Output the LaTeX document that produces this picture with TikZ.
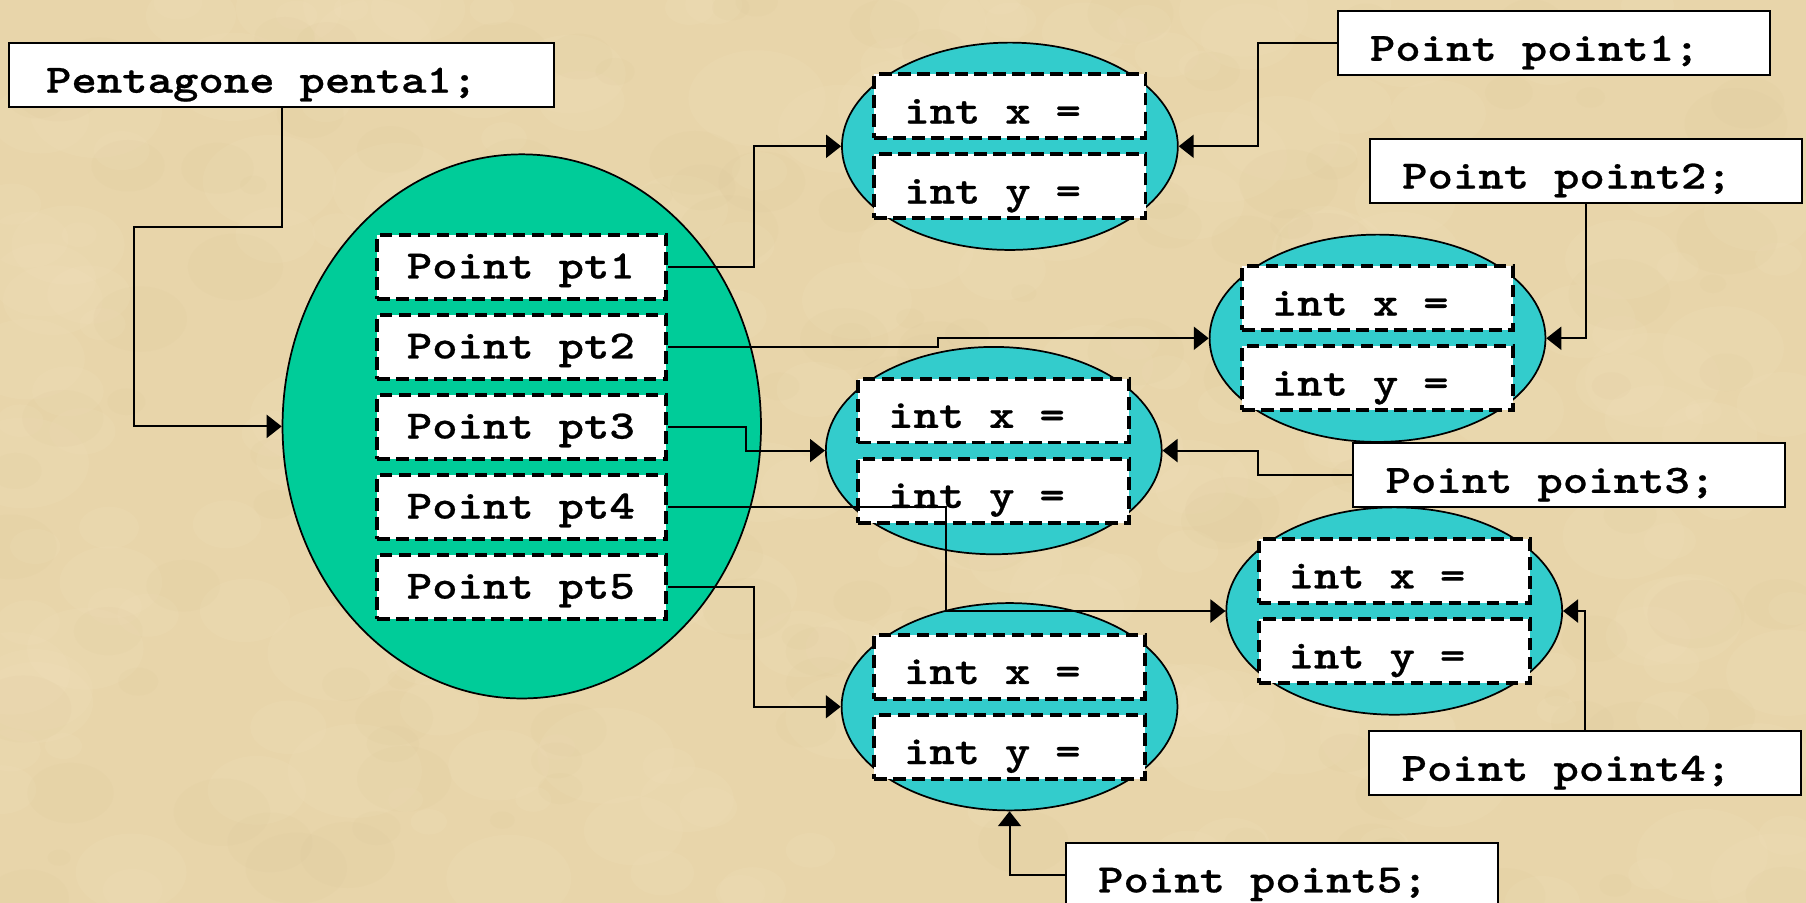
\documentclass[tikz,border=0pt]{standalone}
\usepackage{fontspec}
\newfontfamily\codefnt{lmmonolt10-bold.otf}[FakeStretch=1.2,FakeBold=0.6]
\newcommand{\mycodefont}{\fontsize{35}{40}\selectfont\codefnt\spaceskip=21.6pt\relax}
\usetikzlibrary{shapes.geometric,arrows.meta}
\definecolor{bgcol}{RGB}{232,213,170}
\definecolor{bglight}{RGB}{245,230,196}
\definecolor{bgdark}{RGB}{218,196,150}
\definecolor{greenfill}{RGB}{0,204,153}
\definecolor{cyanfill}{RGB}{51,204,204}
\begin{document}
\begin{tikzpicture}[x=1pt,y=-1pt,
  codefont/.style={font=\mycodefont},
  lblbox/.style={codefont,rectangle,draw=black,line width=1.8pt,fill=white,
    inner xsep=28pt,inner ysep=0pt,text width=319pt,minimum height=55.5pt,
    align=flush left,text height=31pt,text depth=0pt},
  fieldbox/.style={codefont,rectangle,draw=black,line width=3.4pt,fill=white,
    dash pattern=on 11pt off 5.5pt,inner ysep=0pt,minimum height=55.5pt,
    align=flush left,text depth=0pt},
  ptbox/.style={fieldbox,inner xsep=25.5pt,text width=199.9pt,text height=20pt},
  intbox/.style={fieldbox,inner xsep=26pt,text width=183.5pt,text height=30pt},
  objell/.style={ellipse,draw=black,line width=1.5pt,fill=cyanfill,
    minimum width=291.6pt,minimum height=180pt,inner sep=0pt},
  conn/.style={line width=1.7pt,-{Triangle[length=13pt,width=20pt]}}]

% parchment background
\fill[bgcol] (0,0) rectangle (1568,784);
\useasboundingbox (0,0) rectangle (1568,784);
\pgfmathsetseed{11}
\foreach \i in {1,...,260}{
  \pgfmathsetmacro{\xx}{rnd*1568}
  \pgfmathsetmacro{\yy}{rnd*784}
  \pgfmathsetmacro{\rr}{15+rnd*45}
  \fill[bglight,opacity=0.12] (\xx,\yy) ellipse [x radius=\rr, y radius=0.7*\rr];
}
\foreach \i in {1,...,160}{
  \pgfmathsetmacro{\xx}{rnd*1568}
  \pgfmathsetmacro{\yy}{rnd*784}
  \pgfmathsetmacro{\rr}{10+rnd*35}
  \fill[bgdark,opacity=0.1] (\xx,\yy) ellipse [x radius=\rr, y radius=0.7*\rr];
}

% big pentagon object
\node[ellipse,draw=black,line width=1.5pt,fill=greenfill,minimum width=415.4pt,
  minimum height=472.4pt,inner sep=0pt] (pent) at (453,370.2) {};
\node[ptbox] (pt1) at (453.15,231.75) {Point pt1};
\node[ptbox] (pt2) at (453.15,301.25) {Point pt2};
\node[ptbox] (pt3) at (453.15,370.75) {Point pt3};
\node[ptbox] (pt4) at (453.15,440.25) {Point pt4};
\node[ptbox] (pt5) at (453.15,509.75) {Point pt5};

% point objects
\node[objell] (e1) at (876.8,127) {};
\node[intbox] (e1x) at (876.8,92.25) {int x =};
\node[intbox] (e1y) at (876.8,161.75) {int y =};

\node[objell] (e2) at (1196,293.7) {};
\node[intbox] (e2x) at (1196,258.95) {int x =};
\node[intbox] (e2y) at (1196,328.45) {int y =};

\node[objell] (e3) at (862.8,391.2) {};
\node[intbox] (e3x) at (862.8,356.45) {int x =};
\node[intbox] (e3y) at (862.8,425.95) {int y =};

\node[objell] (e4) at (1210.5,530.5) {};
\node[intbox] (e4x) at (1210.5,495.75) {int x =};
\node[intbox] (e4y) at (1210.5,565.25) {int y =};

\node[objell] (e5) at (876.5,613.6) {};
\node[intbox] (e5x) at (876.5,578.85) {int x =};
\node[intbox] (e5y) at (876.5,648.35) {int y =};

% variable labels
\node[lblbox,inner xsep=32pt,text width=409pt,minimum height=56pt] (penta) at (244.5,65) {Pentagone penta1;};
\node[lblbox] (point1) at (1348.9,37.25) {Point point1;};
\node[lblbox] (point2) at (1376.9,148.2) {Point point2;};
\node[lblbox] (point3) at (1362.5,412.4) {Point point3;};
\node[lblbox] (point4) at (1376.4,662.45) {Point point4;};
\node[lblbox] (point5) at (1112.9,759.3) {Point point5;};

% bend coordinates
\coordinate (c0) at (116,197);
\coordinate (k1) at (655,180);
\coordinate (k2) at (814.7,297);
\coordinate (k3) at (648,380);
\coordinate (k4) at (821,480);
\coordinate (k5) at (654.3,560);
\coordinate (k6) at (1092,80);
\coordinate (k7) at (1091.9,400);

% connectors
\draw[conn] (penta.south) |- (c0) |- (pent.west);
\draw[conn] (pt1.east) -| (k1) |- (e1.west);
\draw[conn] (pt2.east) -| (k2) |- (e2.west);
\draw[conn] (pt3.east) -| (k3) |- (e3.west);
\draw[conn] (pt4.east) -| (k4) |- (e4.west);
\draw[conn] (pt5.east) -| (k5) |- (e5.west);
\draw[conn] (point1.west) -| (k6) |- (e1.east);
\draw[conn] (point2.south) |- (e2.east);
\draw[conn] (point3.west) -| (k7) |- (e3.east);
\draw[conn] (point4.north) |- (e4.east);
\draw[conn] (point5.west) -| (e5.south);
\end{tikzpicture}
\end{document}
